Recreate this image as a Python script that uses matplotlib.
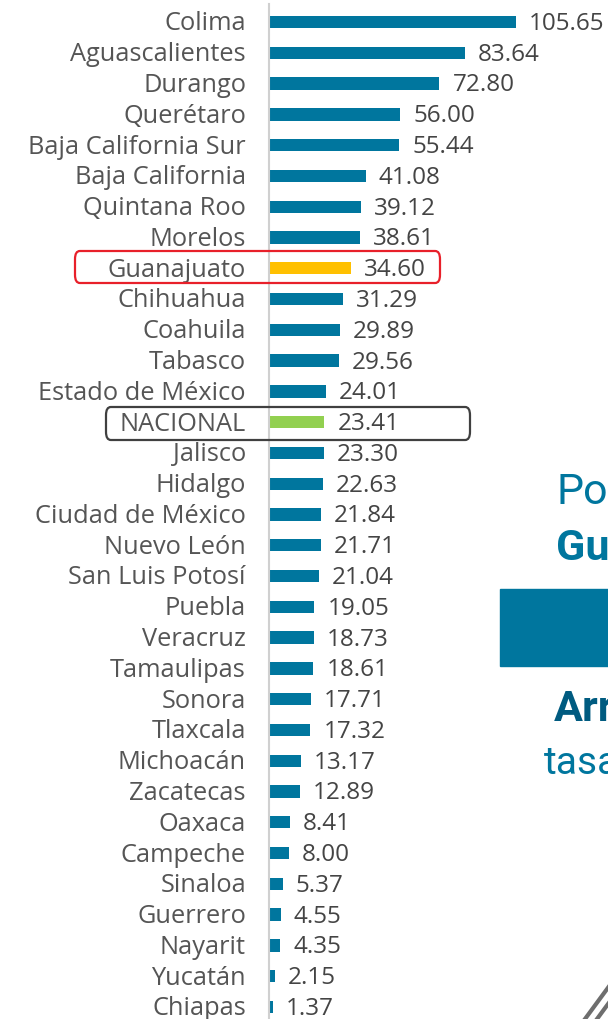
import matplotlib.pyplot as plt
from matplotlib.patches import FancyBboxPatch, Rectangle
from matplotlib.lines import Line2D

estados = ['Colima', 'Aguascalientes', 'Durango', 'Querétaro', 'Baja California Sur',
           'Baja California', 'Quintana Roo', 'Morelos', 'Guanajuato', 'Chihuahua',
           'Coahuila', 'Tabasco', 'Estado de México', 'NACIONAL', 'Jalisco', 'Hidalgo',
           'Ciudad de México', 'Nuevo León', 'San Luis Potosí', 'Puebla', 'Veracruz',
           'Tamaulipas', 'Sonora', 'Tlaxcala', 'Michoacán', 'Zacatecas', 'Oaxaca',
           'Campeche', 'Sinaloa', 'Guerrero', 'Nayarit', 'Yucatán', 'Chiapas']
tasas = [105.65, 83.64, 72.80, 56.00, 55.44, 41.08, 39.12, 38.61, 34.60, 31.29,
         29.89, 29.56, 24.01, 23.41, 23.30, 22.63, 21.84, 21.71, 21.04, 19.05,
         18.73, 18.61, 17.71, 17.32, 13.17, 12.89, 8.41, 8.00, 5.37, 4.55,
         4.35, 2.15, 1.37]

azul = '#00769e'
colores = []
for e in estados:
    if e == 'Guanajuato':
        colores.append('#ffc000')
    elif e == 'NACIONAL':
        colores.append('#92d050')
    else:
        colores.append(azul)

plt.rcParams['font.family'] = ['Open Sans', 'DejaVu Sans']

fig = plt.figure(figsize=(6.08, 10.2), dpi=100)
ax = fig.add_axes([0, 0, 1, 1])
px = 2.328  # pixels per unit
paso = 30.78
ax.set_xlim(-270 / px, 338 / px)
ax.set_ylim(32 + 12 / paso, -23 / paso)
ax.axis('off')

y = list(range(len(estados)))
ax.barh(y, tasas, height=0.4, color=colores)
ax.axvline(-1 / px, ymin=0, ymax=0.995, color='#d0d0d0', lw=1.5)

for i, (e, v) in enumerate(zip(estados, tasas)):
    ax.text(-24 / px, i + 0.03, e, ha='right', va='center', fontsize=18.3,
            color='#555555')
    ax.text(v + 13 / px, i + 0.03, f'{v:.2f}', ha='left', va='center', fontsize=17.5,
            color='#444444')

# highlight boxes (figure pixel coords)
def caja(x0, y0, x1, y1, col):
    p = FancyBboxPatch((x0 / 608, 1 - y1 / 1020), (x1 - x0) / 608, (y1 - y0) / 1020,
                       boxstyle='round,pad=0,rounding_size=0.008', transform=fig.transFigure,
                       fill=False, edgecolor=col, lw=1.6)
    fig.patches.append(p)

caja(75, 252, 440, 284, '#e8202a')
caja(106, 408, 470, 441, '#404040')

# cut-off panel on the right
fig.text(556 / 608, 1 - 493 / 1020, 'Pos', fontsize=31, color=azul, va='center',
         family='Roboto')
fig.text(556 / 608, 1 - 548 / 1020, 'Gu', fontsize=31, color=azul, va='center',
         family='Roboto', fontweight='bold')
fig.patches.append(Rectangle((500 / 608, 1 - 667 / 1020), 108 / 608, 77 / 1020,
                             transform=fig.transFigure, color=azul))
fig.text(554 / 608, 1 - 710 / 1020, 'Arr', fontsize=31, color='#005b80', va='center',
         family='Roboto', fontweight='bold')
fig.text(544 / 608, 1 - 763 / 1020, 'tasa', fontsize=28, color=azul, va='center',
         family='Roboto')

# decoration in bottom-right corner
for dx in (0, 12):
    fig.lines.append(Line2D([(585 + dx) / 608, (610 + dx) / 608], [0, 34 / 1020],
                            transform=fig.transFigure, color='#6e6e6e', lw=3))

fig.savefig('out.png', dpi=100)
